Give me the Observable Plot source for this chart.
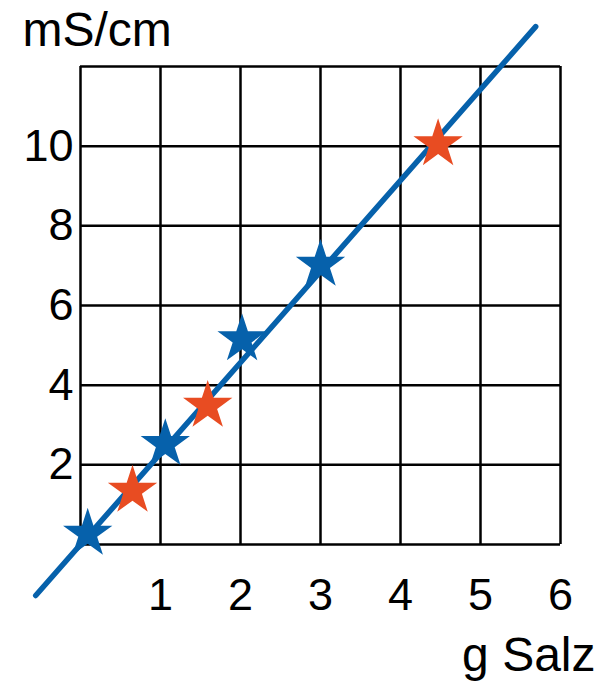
<!DOCTYPE html>
<html>
<head>
<meta charset="utf-8">
<script src="https://cdn.jsdelivr.net/npm/d3@7"></script>
<script src="https://cdn.jsdelivr.net/npm/@observablehq/plot@0.6"></script>
<style>
  html, body { margin: 0; padding: 0; background: #fff; }
</style>
</head>
<body>
<div id="chart"></div>
<script>
// Data
const blueX = [0.09, 1.06, 2.02, 3.0];
const blueY = [0.27, 2.52, 5.15, 7.02];
const redX = [0.65, 1.59, 4.47];
const redY = [1.35, 3.48, 10.05];
const fitX = [-0.56, 5.69];
const fitY = [-1.28, 13.0];
const xTicks = [1, 2, 3, 4, 5, 6];
const yTicks = [2, 4, 6, 8, 10];
const xGrid = [0, 1, 2, 3, 4, 5, 6];
const yGrid = [0, 2, 4, 6, 8, 10, 12];
const yUnit = "mS/cm";
const xUnit = "g Salz";

const blue = blueX.map((x, i) => ({x, y: blueY[i]}));
const red = redX.map((x, i) => ({x, y: redY[i]}));
const fit = fitX.map((x, i) => ({x, y: fitY[i]}));

const chart = Plot.plot({
  width: 609,
  height: 682,
  marginLeft: 80,
  marginRight: 49,
  marginTop: 66,
  marginBottom: 138,
  style: {fontFamily: "'Liberation Sans', Arial, sans-serif", fontSize: "45px", color: "#000", background: "#fff"},
  x: {domain: [0, 6], label: null},
  y: {domain: [0, 12], label: null},
  marks: [
    Plot.gridX(xGrid, {stroke: "#000", strokeOpacity: 1, strokeWidth: 2.5}),
    Plot.gridY(yGrid, {stroke: "#000", strokeOpacity: 1, strokeWidth: 2.5}),
    Plot.axisX(xTicks, {tickSize: 0, tickPadding: 34, fontSize: 45, label: null}),
    Plot.axisY(yTicks, {tickSize: 0, tickPadding: 7, fontSize: 45, label: null}),
    Plot.line(fit, {x: "x", y: "y", stroke: "#0661ab", strokeWidth: 5.5}),
    Plot.dot(blue, {x: "x", y: "y", symbol: "star", r: 15.5, fill: "#0661ab", stroke: "none"}),
    Plot.dot(red, {x: "x", y: "y", symbol: "star", r: 15.5, fill: "#e84c22", stroke: "none"}),
    Plot.text([yUnit], {frameAnchor: "top-left", text: d => d, textAnchor: "start", lineAnchor: "bottom", dx: -58, dy: -21, fontSize: 48, fill: "#000"}),
    Plot.text([xUnit], {frameAnchor: "bottom-right", text: d => d, textAnchor: "end", lineAnchor: "bottom", dx: 35, dy: 126, fontSize: 48, fill: "#000"})
  ]
});
document.getElementById("chart").appendChild(chart);
</script>
</body>
</html>
